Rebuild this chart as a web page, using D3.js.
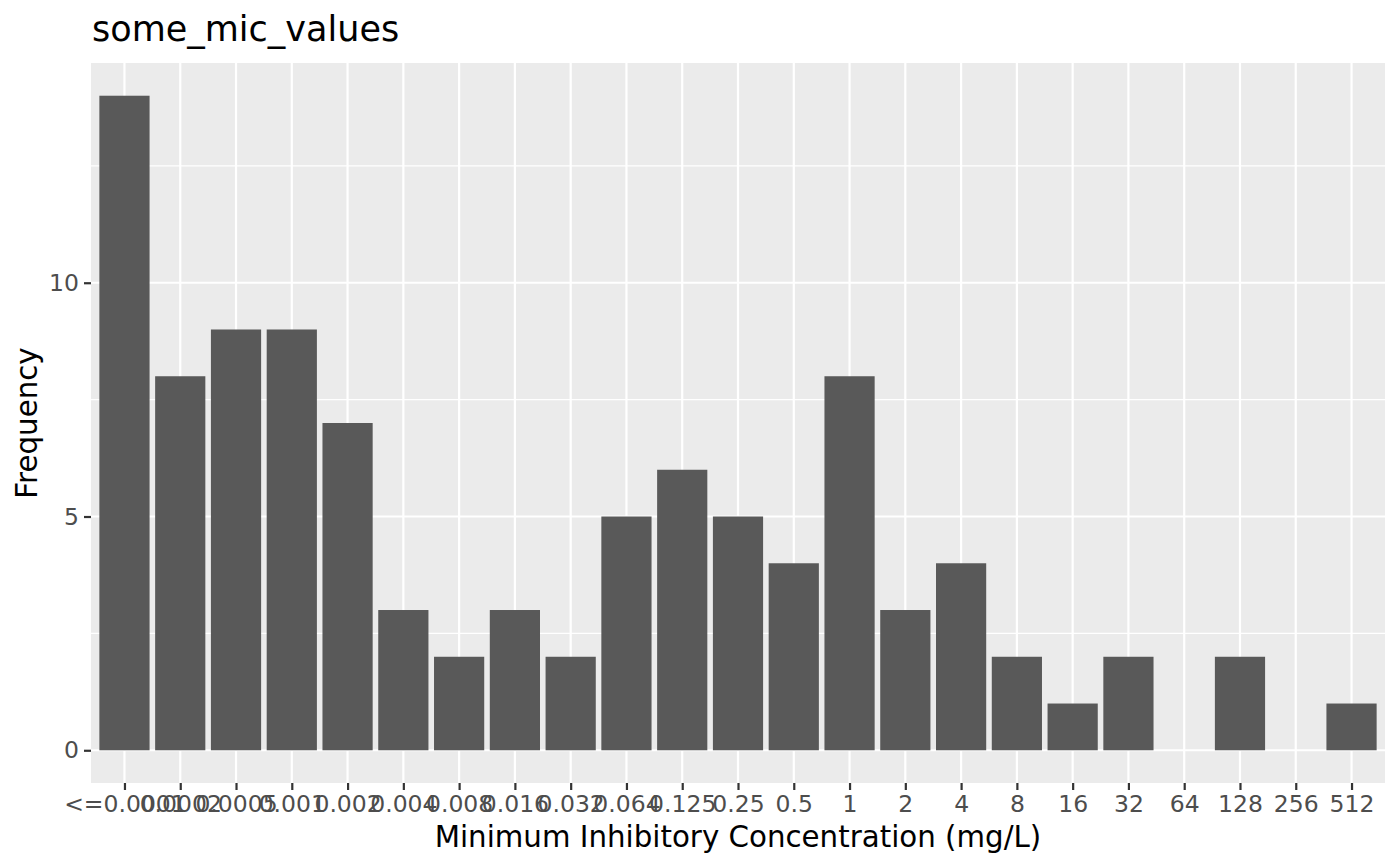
<!DOCTYPE html>
<html><head><meta charset="utf-8">
<script src="https://cdn.jsdelivr.net/npm/d3@7"></script>
<style>body{margin:0;background:#fff;} svg{display:block;}</style>
</head><body>
<svg id="c" width="1400" height="866"></svg>
<script>
const categories = ["<=0.0001","0.0002","0.0005","0.001","0.002","0.004","0.008","0.016","0.032","0.064","0.125","0.25","0.5","1","2","4","8","16","32","64","128","256","512"];
const frequency = [14,8,9,9,7,3,2,3,2,5,6,5,4,8,3,4,2,1,2,0,2,0,1];
const yTicks = [0,5,10];
const yMinorTicks = [2.5,7.5,12.5];
const titleText = "some_mic_values";
const xTitle = "Minimum Inhibitory Concentration (mg/L)";
const yTitle = "Frequency";

const font = "DejaVu Sans, sans-serif";
const svg = d3.select("#c");
const L = 91, R = 1385, T = 63, B = 783;
const n = categories.length;
const maxV = d3.max(frequency);

const xc = d3.scaleLinear().domain([0.4, n + 0.6]).range([L, R]);
const x = d3.scaleOrdinal().domain(categories).range(categories.map((d, i) => xc(i + 1)));
const y = d3.scaleLinear().domain([-maxV * 0.05, maxV * 1.05]).range([B, T]);
const bw = (xc(2) - xc(1)) * 0.9;

svg.append("rect").attr("x", L).attr("y", T).attr("width", R - L).attr("height", B - T).attr("fill", "#EBEBEB");

const g = svg.append("g");
g.selectAll(".ymin").data(yMinorTicks).join("line")
  .attr("x1", L).attr("x2", R).attr("y1", d => y(d)).attr("y2", d => y(d))
  .attr("stroke", "#fff").attr("stroke-width", 1.1);
g.selectAll(".ymaj").data(yTicks).join("line")
  .attr("x1", L).attr("x2", R).attr("y1", d => y(d)).attr("y2", d => y(d))
  .attr("stroke", "#fff").attr("stroke-width", 2.2);
g.selectAll(".xmaj").data(categories).join("line")
  .attr("x1", d => x(d)).attr("x2", d => x(d)).attr("y1", T).attr("y2", B)
  .attr("stroke", "#fff").attr("stroke-width", 2.2);

svg.append("g").selectAll("rect").data(categories).join("rect")
  .attr("x", (d) => x(d) - bw / 2)
  .attr("width", bw)
  .attr("y", (d, i) => y(frequency[i]))
  .attr("height", (d, i) => y(0) - y(frequency[i]))
  .attr("fill", "#595959");

const xAxis = d3.axisBottom(x).tickSize(7).tickPadding(5);
const gx = svg.append("g").attr("transform", `translate(0,${B})`).call(xAxis);
gx.select(".domain").remove();
gx.selectAll(".tick line").attr("stroke", "#333333").attr("stroke-width", 2.2);
gx.selectAll(".tick text").attr("fill", "#4D4D4D").attr("font-family", font).attr("font-size", 23.5);

const yAxis = d3.axisLeft(y).tickValues(yTicks).tickSize(7).tickPadding(5);
const gy = svg.append("g").attr("transform", `translate(${L},0)`).call(yAxis);
gy.select(".domain").remove();
gy.selectAll(".tick line").attr("stroke", "#333333").attr("stroke-width", 2.2);
gy.selectAll(".tick text").attr("fill", "#4D4D4D").attr("font-family", font).attr("font-size", 23.5);

svg.append("text").attr("x", L + 1).attr("y", 41).text(titleText)
  .attr("font-family", font).attr("font-size", 35).attr("fill", "#000");
svg.append("text").attr("x", (L + R) / 2).attr("y", 847).attr("text-anchor", "middle").text(xTitle)
  .attr("font-family", font).attr("font-size", 29.3).attr("fill", "#000");
svg.append("text").attr("transform", `translate(37,${(T + B) / 2}) rotate(-90)`).attr("text-anchor", "middle").text(yTitle)
  .attr("font-family", font).attr("font-size", 29.3).attr("fill", "#000");
</script>
</body></html>
